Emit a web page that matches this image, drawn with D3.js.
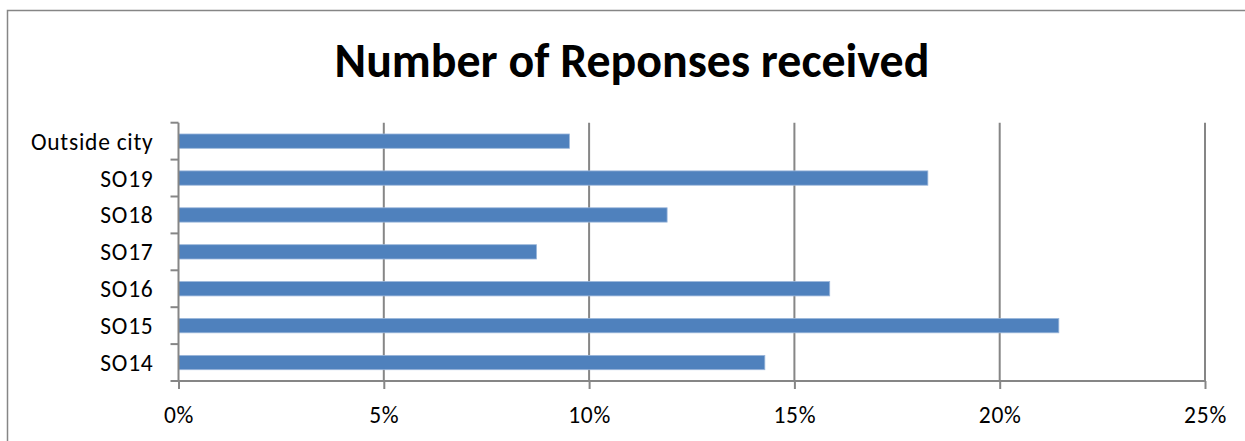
<!DOCTYPE html>
<html>
<head>
<meta charset="utf-8">
<script src="https://cdn.jsdelivr.net/npm/d3@7"></script>
<style>
  html, body { margin: 0; padding: 0; background: #fff; }
  svg { display: block; }
  text { font-family: Carlito, Calibri, Lato, "Open Sans", sans-serif; }
</style>
</head>
<body>
<svg id="chart" width="1245" height="441"></svg>
<script>
const title = "Number of Reponses received";
const categories = ["Outside city", "SO19", "SO18", "SO17", "SO16", "SO15", "SO14"];
const values = [9.52, 18.25, 11.9, 8.72, 15.86, 21.44, 14.28];
const tickValues = [0, 5, 10, 15, 20, 25];

const svg = d3.select("#chart");
const gridColor = "#868686";
const barColor = "#4F81BD";
const labelSize = 23.5;
const labelSpacing = "0.75px";

// outer chart border (right & bottom edges lie outside the picture)
svg.append("rect")
  .attr("x", 7.5).attr("y", 10.5)
  .attr("width", 1260).attr("height", 460)
  .attr("fill", "#fff").attr("stroke", gridColor).attr("stroke-width", 1.5);

const plot = { left: 178.5, right: 1205, top: 122.7, bottom: 381 };

const x = d3.scaleLinear().domain([0, 25]).range([plot.left, plot.right]);
const y = d3.scaleBand().domain(categories)
  .range([plot.top, plot.bottom])
  .paddingInner(0.612).paddingOuter(0.306);

// vertical gridlines
svg.append("g").selectAll("line").data(tickValues.filter(d => d > 0)).join("line")
  .attr("x1", d => x(d)).attr("x2", d => x(d))
  .attr("y1", plot.top).attr("y2", plot.bottom)
  .attr("stroke", gridColor).attr("stroke-width", 2);

// bars
svg.append("g").selectAll("rect").data(categories).join("rect")
  .attr("x", x(0))
  .attr("y", d => y(d))
  .attr("width", (d, i) => x(values[i]) - x(0))
  .attr("height", y.bandwidth())
  .attr("fill", barColor)
  .attr("stroke", "#9ab6da").attr("stroke-width", 0.8);

// x axis
const xAxis = d3.axisBottom(x).tickValues(tickValues)
  .tickFormat(d => d + "%").tickSize(8).tickPadding(17);
const gx = svg.append("g").attr("transform", `translate(0,${plot.bottom})`).call(xAxis);
gx.select(".domain").attr("stroke", gridColor).attr("stroke-width", 2)
  .attr("d", `M${plot.left},0H${plot.right}`);
gx.selectAll(".tick line").attr("stroke", gridColor).attr("stroke-width", 2);
gx.selectAll(".tick text").attr("fill", "#000").attr("font-size", labelSize)
  .style("letter-spacing", labelSpacing)
  .style("font-family", "Carlito, Calibri, Lato, sans-serif");

// y axis
const gy = svg.append("g").attr("transform", `translate(${plot.left},0)`);
gy.append("line").attr("x1", 0).attr("x2", 0)
  .attr("y1", plot.top).attr("y2", plot.bottom)
  .attr("stroke", gridColor).attr("stroke-width", 2);
const bounds = d3.range(categories.length + 1).map(i => plot.top + i * y.step());
gy.selectAll("line.tk").data(bounds).join("line").attr("class", "tk")
  .attr("x1", -8).attr("x2", 0)
  .attr("y1", d => d).attr("y2", d => d)
  .attr("stroke", gridColor).attr("stroke-width", 2);
gy.selectAll("text").data(categories).join("text")
  .attr("x", -25)
  .attr("y", d => y(d) + y.bandwidth() / 2)
  .attr("dy", "0.36em")
  .attr("text-anchor", "end")
  .attr("font-size", labelSize)
  .style("letter-spacing", labelSpacing)
  .attr("fill", "#000")
  .text(d => d);

// title
const t = svg.append("text")
  .attr("x", 632).attr("y", 77)
  .attr("text-anchor", "middle")
  .attr("font-weight", "bold")
  .attr("font-size", 40)
  .attr("fill", "#000")
  .text(title);
const len = t.node().getComputedTextLength();
t.attr("font-size", 40 * 595 / len);
</script>
</body>
</html>
